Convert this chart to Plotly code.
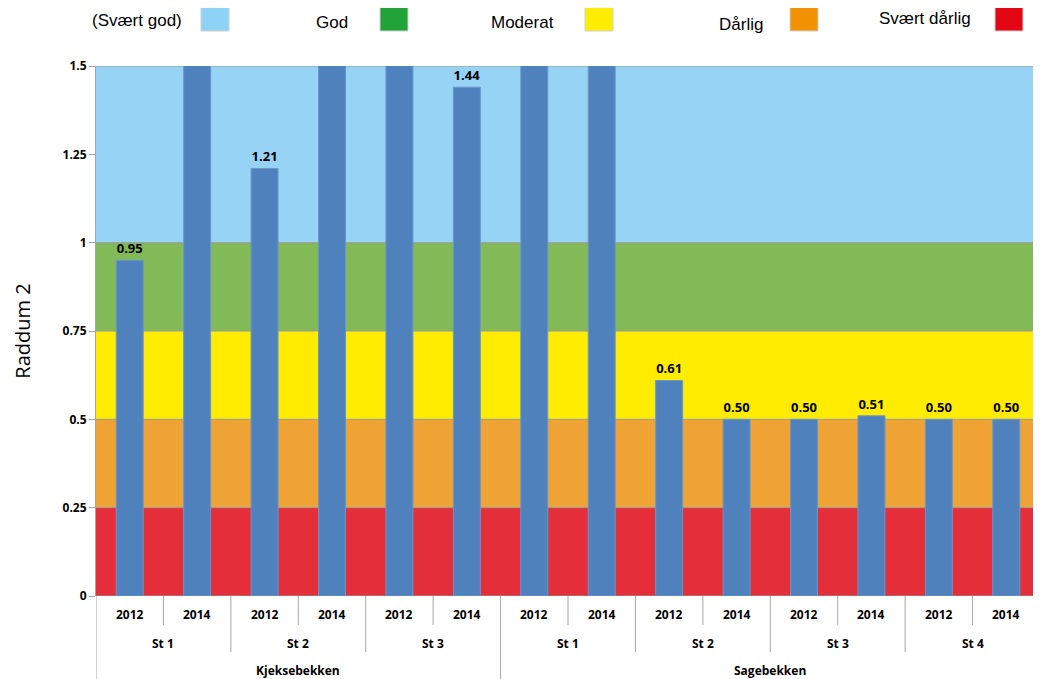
import plotly.graph_objects as go

# ---- data ----
years = ["2012", "2014"] * 7
stations = ["St 1", "St 2", "St 3", "St 1", "St 2", "St 3", "St 4"]
rivers = ["Kjeksebekken", "Sagebekken"]
river_station_counts = [3, 4]
values = [0.95, 1.80, 1.21, 1.80, 1.80, 1.44, 1.80, 1.80, 0.61, 0.50, 0.50, 0.51, 0.50, 0.50]

band_limits = [0, 0.25, 0.5, 0.75, 1.0, 1.5]
band_colors = ["#E42F3B", "#EFA335", "#FFEC00", "#82BA57", "#96D3F4"]
legend_labels = ["(Svært god)", "God", "Moderat", "Dårlig", "Svært dårlig"]
legend_colors = ["#8ED3F6", "#22A33A", "#FFED00", "#F39200", "#E30613"]
y_ticks = [0, 0.25, 0.5, 0.75, 1, 1.25, 1.5]
y_tick_text = ["0", "0.25", "0.5", "0.75", "1", "1.25", "1.5"]

YMAX = 1.5
x = list(range(len(values)))
labels = [f"{v:.2f}" if v <= YMAX else "" for v in values]

FONT = "Open Sans, Liberation Sans, sans-serif"

# screen geometry (page has an 8px body margin)
PAGE_OFF = 8
PL, PR, PT, PB = 96, 1040, 66, 596   # plot area in screen pixels
PW, PH = PR - PL, PB - PT


def px_x(sx):
    return (sx - PL) / PW


def px_y(sy):
    return (PB - sy) / PH


fig = go.Figure()
fig.add_trace(go.Bar(
    x=x, y=values, width=0.4,
    marker=dict(color="#4F81BD", line=dict(color="#6A97CC", width=1)),
    text=labels, textposition="outside", cliponaxis=True,
    textfont=dict(family=FONT, size=13, color="black", weight="bold"),
    hoverinfo="y", showlegend=False,
))

shapes = []
for i, c in enumerate(band_colors):
    shapes.append(dict(type="rect", xref="paper", yref="y", x0=0, x1=1,
                       y0=band_limits[i], y1=band_limits[i + 1],
                       fillcolor=c, line=dict(width=0), layer="below"))
for yv in band_limits:
    shapes.append(dict(type="line", xref="paper", yref="y", x0=0, x1=1, y0=yv, y1=yv,
                       line=dict(color="#9A9A9A", width=1), layer="below"))

annotations = []
lab_font = dict(family=FONT, size=12, color="black", weight="bold")
for i, yr in enumerate(years):
    annotations.append(dict(x=i, y=px_y(614), xref="x", yref="paper", text=yr, showarrow=False,
                            font=lab_font, yanchor="middle"))
for i in range(1, len(years), 2):
    xv = i - 0.5
    shapes.append(dict(type="line", xref="x", yref="paper", x0=xv, x1=xv, y0=0, y1=px_y(625),
                       line=dict(color="#A6A6A6", width=1)))
for s_i, st in enumerate(stations):
    annotations.append(dict(x=2 * s_i + 0.5, y=px_y(643), xref="x", yref="paper", text=st,
                            showarrow=False, font=lab_font, yanchor="middle"))
boundary_rivers = [0]
acc = 0
for c in river_station_counts:
    acc += c
    boundary_rivers.append(acc)
for s_i in range(len(stations) + 1):
    xv = 2 * s_i - 0.5
    y1 = px_y(690) if (s_i in boundary_rivers and s_i != len(stations)) else px_y(652)
    shapes.append(dict(type="line", xref="x", yref="paper", x0=xv, x1=xv, y0=0, y1=y1,
                       line=dict(color="#A6A6A6", width=1)))
start = 0
for r, c in zip(rivers, river_station_counts):
    center = start * 2 + c - 0.5
    annotations.append(dict(x=center, y=px_y(670), xref="x", yref="paper", text=r, showarrow=False,
                            font=lab_font, yanchor="middle"))
    start += c

legend_text_x = [137, 332, 522, 741, 925]
legend_box_x = [201, 380, 585, 790, 995]
legend_text_y = [21, 22, 22, 24, 19]
for lab, tx, ty in zip(legend_labels, legend_text_x, legend_text_y):
    annotations.append(dict(x=px_x(tx), y=px_y(ty), xref="paper", yref="paper",
                            xanchor="center", yanchor="middle", text=lab, showarrow=False,
                            font=dict(family="Liberation Sans Narrow, Liberation Sans, sans-serif",
                                      size=17, color="black")))
for col, bx in zip(legend_colors, legend_box_x):
    shapes.append(dict(type="rect", xref="paper", yref="paper",
                       x0=px_x(bx), x1=px_x(bx + 28), y0=px_y(31), y1=px_y(6),
                       fillcolor=col, line=dict(color="#D0D0D0", width=1)))

fig.update_layout(
    width=1041 - PAGE_OFF, height=679 - PAGE_OFF,
    margin=dict(l=PL - PAGE_OFF, r=1041 - PR, t=PT - PAGE_OFF, b=679 - PB, autoexpand=False),
    paper_bgcolor="white", plot_bgcolor="white",
    shapes=shapes, annotations=annotations,
    xaxis=dict(range=[-0.5, len(values) - 0.5], showticklabels=False, ticks="",
               showgrid=False, zeroline=False, showline=False, fixedrange=True),
    yaxis=dict(range=[0, YMAX], tickvals=y_ticks, ticktext=y_tick_text,
               ticks="outside", ticklen=6, tickcolor="#A6A6A6",
               showline=True, linecolor="#A6A6A6", linewidth=1,
               showgrid=False, zeroline=False,
               tickfont=dict(family=FONT, size=12, color="black", weight="bold"),
               title=dict(text="Raddum 2", font=dict(family=FONT, size=20, color="black"),
                          standoff=26)),
    font=dict(family=FONT),
)

fig.write_html("out.html")
